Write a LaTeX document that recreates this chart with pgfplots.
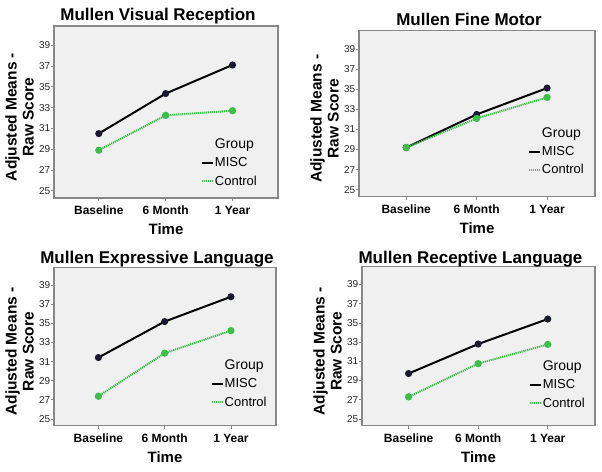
\documentclass[border=0pt]{standalone}
\usepackage{pgfplots}
\pgfplotsset{compat=1.18}
\usepackage{fontspec}
\setmainfont{Liberation Sans}
\definecolor{bgc}{RGB}{240,240,240}
\definecolor{framec}{RGB}{136,136,136}
\definecolor{cgreen}{RGB}{60,190,75}
\definecolor{navyc}{RGB}{25,25,50}
\pgfplotsset{
 panel/.style={
  scale only axis, anchor=north west,
  xmin=-0.67, xmax=2.68, ymin=24.3, ymax=40.85,
  xtick={0,1,2}, xticklabels={Baseline,6 Month,1 Year},
  ytick={25,27,...,39},
  axis background/.style={fill=bgc},
  axis line style={draw=framec, line width=1.2pt},
  tick style={draw=framec, line width=0.8pt},
  tick align=outside, major tick length=3pt,
  xtick pos=lower, ytick pos=left,
  /pgf/number format/assume math mode=true,
  yticklabel style={font=\fontsize{10}{11}\selectfont, inner sep=0.5pt, text=black!85},
  xticklabel style={font=\bfseries\fontsize{12}{14}\selectfont, anchor=base, yshift=-14pt},
  title style={font=\bfseries\fontsize{17}{20}\selectfont, at={(0.5,1)}, anchor=base, xshift=-8pt},
  xlabel={Time},
  xlabel style={font=\bfseries\fontsize{15}{17}\selectfont, at={(0.5,0)}, anchor=center, yshift=-31pt},
  ylabel={Adjusted Means -\\Raw Score},
  ylabel style={font=\bfseries\fontsize{15.5}{17}\selectfont, align=center, at={(0,0.5)}, anchor=center, xshift=-5pt, yshift=34.5pt},
  legend style={draw=none, fill=none, font=\fontsize{13}{15}\selectfont, anchor=north west, inner sep=0pt, nodes={inner sep=1pt}, row sep=5.5pt},
  legend cell align=left,
  legend image code/.code={\draw[#1,mark=none] (0pt,0pt) -- (11pt,0pt);},
 },
 misc/.style={black, line width=2pt, mark=*, mark size=2.5pt, mark options={fill=navyc, draw=navyc, solid}},
 ctrl/.style={cgreen, line width=2pt, dash pattern=on 1.2pt off 0.8pt, mark=*, mark size=2.6pt, mark options={fill=cgreen, draw=cgreen, solid}},
}
\begin{document}
\begin{tikzpicture}
\path[use as bounding box] (0,0) rectangle (602pt,471pt);
% Panel 1
\begin{axis}[panel, at={(54pt,445pt)}, width=224pt, height=172pt,
  title={Mullen Visual Reception}, title style={yshift=-1pt},
  legend style={at={(0.655,0.35)}}]
\addlegendimage{empty legend}
\addplot[misc] coordinates {(0,30.5) (1,34.35) (2,37.1)};
\addplot[ctrl] coordinates {(0,28.9) (1,32.25) (2,32.7)};
\legend{\fontsize{14}{16}\selectfont Group, MISC, Control}
\end{axis}
% Panel 2
\begin{axis}[panel, at={(359pt,440.3pt)}, width=236pt, height=166pt,
  title={Mullen Fine Motor}, title style={yshift=-1pt},
  legend style={at={(0.715,0.424)}}]
\addlegendimage{empty legend}
\addplot[misc] coordinates {(0,29.2) (1,32.5) (2,35.13)};
\addplot[ctrl] coordinates {(0,29.2) (1,32.1) (2,34.2)};
\legend{\fontsize{14}{16}\selectfont Group, MISC, Control}
\end{axis}
% Panel 3
\begin{axis}[panel, at={(54pt,203.7pt)}, width=222pt, height=158.4pt,
  title={Mullen Expressive Language}, title style={yshift=-2.5pt},
  legend style={at={(0.705,0.423)}}]
\addlegendimage{empty legend}
\addplot[misc] coordinates {(0,31.42) (1,35.18) (2,37.77)};
\addplot[ctrl] coordinates {(0,27.38) (1,31.88) (2,34.23)};
\legend{\fontsize{14}{16}\selectfont Group, MISC, Control}
\end{axis}
% Panel 4
\begin{axis}[panel, at={(362pt,204.3pt)}, width=233pt, height=159pt,
  title={Mullen Receptive Language}, title style={yshift=-2.5pt},
  legend style={at={(0.715,0.415)}}]
\addlegendimage{empty legend}
\addplot[misc] coordinates {(0,29.73) (1,32.8) (2,35.4)};
\addplot[ctrl] coordinates {(0,27.3) (1,30.76) (2,32.76)};
\legend{\fontsize{14}{16}\selectfont Group, MISC, Control}
\end{axis}
\end{tikzpicture}
\end{document}
